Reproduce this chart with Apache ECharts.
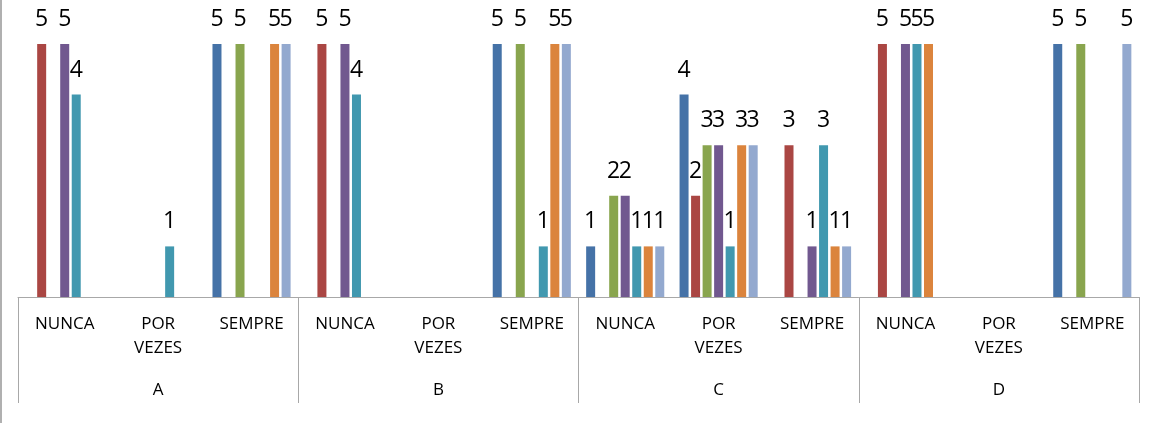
<!DOCTYPE html>
<html>
<head>
<meta charset="utf-8">
<script src="https://cdn.jsdelivr.net/npm/echarts@6/dist/echarts.min.js"></script>
<style>
html,body{margin:0;padding:0;background:#fff;}
#c{width:1151px;height:423px;box-sizing:border-box;border-left:2px solid #b0b0b0;}
</style>
</head>
<body>
<div id="c"></div>
<script>
const groups = ['A', 'B', 'C', 'D'];
const subLabels = ['NUNCA', 'POR\nVEZES', 'SEMPRE'];
const categories = [];
groups.forEach(() => subLabels.forEach(s => categories.push(s)));

const seriesColors = ['#4572A7', '#AA4643', '#89A54E', '#71588F', '#4198AF', '#DB843D', '#93A9CF'];

// order of categories: A-NUNCA, A-POR VEZES, A-SEMPRE, B-..., C-..., D-...
const s1 = [null, null, 5,   null, null, 5,   1, 4, null,   null, null, 5];
const s2 = [5,    null, null, 5,   null, null, null, 2, 3,  5,    null, null];
const s3 = [null, null, 5,   null, null, 5,   2, 3, null,   null, null, 5];
const s4 = [5,    null, null, 5,   null, null, 2, 3, 1,     5,    null, null];
const s5 = [4,    1,    null, 4,   null, 1,   1, 1, 3,      5,    null, null];
const s6 = [null, null, 5,   null, null, 5,   1, 3, 1,      5,    null, null];
const s7 = [null, null, 5,   null, null, 5,   1, 3, 1,      null, null, 5];
const seriesData = [s1, s2, s3, s4, s5, s6, s7];

const chart = echarts.init(document.getElementById('c'));
const axisGray = '#a8a8a8';
chart.setOption({
  animation: false,
  grid: { left: 16, right: 12, top: 3.5, bottom: 126, containLabel: false },
  xAxis: [
    {
      type: 'category',
      data: categories,
      position: 'bottom',
      axisLine: { show: false },
      axisTick: { show: false },
      axisLabel: {
        interval: 0, margin: 15, fontSize: 17, lineHeight: 24,
        color: '#000', fontFamily: 'Open Sans'
      }
    },
    {
      type: 'category',
      data: groups,
      position: 'bottom',
      axisLine: { show: true, lineStyle: { color: axisGray, width: 1 } },
      axisTick: { show: true, interval: 0, length: 106, lineStyle: { color: axisGray, width: 1 } },
      axisLabel: {
        interval: 0, margin: 81, fontSize: 17, lineHeight: 24,
        color: '#000', fontFamily: 'Open Sans'
      }
    }
  ],
  yAxis: { type: 'value', min: 0, max: 5.8, show: false, splitLine: { show: false } },
  series: seriesData.map((d, i) => ({
    type: 'bar',
    xAxisIndex: 0,
    data: d,
    barWidth: 9,
    barGap: '28%',
    itemStyle: { color: seriesColors[i] },
    label: {
      show: true, position: 'top', distance: 13,
      fontSize: 23, color: '#000', fontFamily: 'Open Sans'
    }
  }))
});
</script>
</body>
</html>
